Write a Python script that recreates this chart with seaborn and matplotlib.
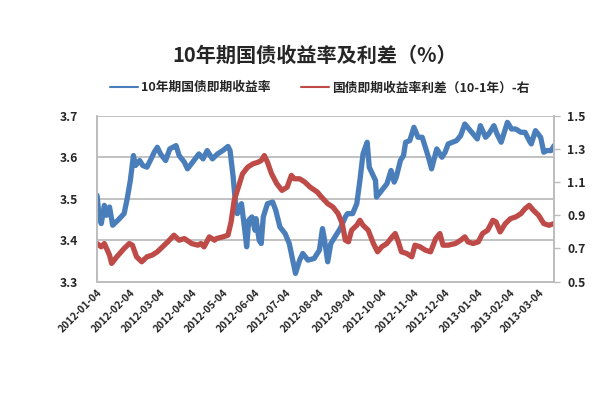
import matplotlib
matplotlib.use("Agg")
import matplotlib.pyplot as plt
import seaborn as sns
import pandas as pd
from matplotlib.lines import Line2D

# ---- data ----
title = "10年期国债收益率及利差（%）"
label_yield = "10年期国债即期收益率"
label_spread = "国债即期收益率利差（10-1年）-右"

yield_dates = [
    "2012-01-04", "2012-01-06", "2012-01-08", "2012-01-11", "2012-01-13", "2012-01-16", "2012-01-19",
    "2012-01-24", "2012-01-30", "2012-02-02", "2012-02-05", "2012-02-08", "2012-02-10", "2012-02-14",
    "2012-02-17", "2012-02-21", "2012-02-25", "2012-02-28", "2012-03-02", "2012-03-05", "2012-03-10",
    "2012-03-14", "2012-03-17", "2012-03-20", "2012-03-23", "2012-03-28", "2012-03-31", "2012-04-05",
    "2012-04-11", "2012-04-15", "2012-04-19", "2012-04-24", "2012-04-29", "2012-05-04", "2012-05-09",
    "2012-05-11", "2012-05-14", "2012-05-16", "2012-05-18", "2012-05-22", "2012-05-25", "2012-05-27",
    "2012-05-29", "2012-06-01", "2012-06-04", "2012-06-05", "2012-06-08", "2012-06-10", "2012-06-12",
    "2012-06-16", "2012-06-21", "2012-06-24", "2012-06-28", "2012-07-03", "2012-07-07", "2012-07-11",
    "2012-07-13", "2012-07-17", "2012-07-20", "2012-07-25", "2012-07-31", "2012-08-05", "2012-08-08",
    "2012-08-10", "2012-08-13", "2012-08-16", "2012-08-20", "2012-08-25", "2012-08-30", "2012-09-01",
    "2012-09-06", "2012-09-10", "2012-09-13", "2012-09-16", "2012-09-20", "2012-09-22", "2012-09-25",
    "2012-09-28", "2012-09-29", "2012-10-04", "2012-10-09", "2012-10-13", "2012-10-16", "2012-10-18",
    "2012-10-22", "2012-10-25", "2012-10-27", "2012-10-31", "2012-11-04", "2012-11-08", "2012-11-12",
    "2012-11-15", "2012-11-18", "2012-11-21", "2012-11-26", "2012-12-01", "2012-12-04", "2012-12-07",
    "2012-12-11", "2012-12-15", "2012-12-19", "2012-12-23", "2012-12-27", "2012-12-31", "2013-01-04",
    "2013-01-07", "2013-01-12", "2013-01-15", "2013-01-20", "2013-01-23", "2013-01-27", "2013-02-02",
    "2013-02-06", "2013-02-10", "2013-02-15", "2013-02-19", "2013-02-23", "2013-02-25", "2013-03-01",
    "2013-03-06", "2013-03-09", "2013-03-12", "2013-03-16", "2013-03-19",
]
yield_values = [
    3.508, 3.456, 3.440, 3.484, 3.460, 3.480, 3.436,
    3.448, 3.464, 3.500, 3.544, 3.604, 3.580, 3.592,
    3.580, 3.576, 3.596, 3.612, 3.624, 3.608, 3.592,
    3.620, 3.624, 3.628, 3.604, 3.588, 3.572, 3.588,
    3.608, 3.596, 3.616, 3.596, 3.608, 3.616, 3.626,
    3.616, 3.552, 3.496, 3.464, 3.488, 3.428, 3.384,
    3.448, 3.456, 3.424, 3.452, 3.400, 3.392, 3.456,
    3.488, 3.492, 3.472, 3.432, 3.416, 3.392, 3.344,
    3.320, 3.352, 3.368, 3.352, 3.356, 3.376, 3.428,
    3.400, 3.348, 3.392, 3.408, 3.428, 3.456, 3.464,
    3.464, 3.488, 3.544, 3.608, 3.636, 3.576, 3.560,
    3.544, 3.504, 3.520, 3.536, 3.568, 3.540, 3.552,
    3.592, 3.604, 3.636, 3.640, 3.672, 3.648, 3.648,
    3.624, 3.600, 3.572, 3.620, 3.600, 3.612, 3.632,
    3.636, 3.640, 3.652, 3.680, 3.668, 3.656, 3.644,
    3.676, 3.648, 3.656, 3.676, 3.656, 3.636, 3.684,
    3.668, 3.668, 3.660, 3.660, 3.640, 3.632, 3.664,
    3.648, 3.612, 3.616, 3.616, 3.628,
]

spread_dates = [
    "2012-01-04", "2012-01-08", "2012-01-11", "2012-01-16", "2012-01-18", "2012-01-23", "2012-01-30",
    "2012-02-04", "2012-02-07", "2012-02-11", "2012-02-16", "2012-02-21", "2012-02-26", "2012-03-02",
    "2012-03-07", "2012-03-12", "2012-03-18", "2012-03-23", "2012-03-28", "2012-04-04", "2012-04-10",
    "2012-04-13", "2012-04-16", "2012-04-21", "2012-04-26", "2012-04-28", "2012-05-04", "2012-05-09",
    "2012-05-12", "2012-05-15", "2012-05-18", "2012-05-23", "2012-05-28", "2012-06-02", "2012-06-07",
    "2012-06-10", "2012-06-13", "2012-06-16", "2012-06-20", "2012-06-25", "2012-06-30", "2012-07-05",
    "2012-07-09", "2012-07-12", "2012-07-17", "2012-07-22", "2012-07-27", "2012-08-03", "2012-08-07",
    "2012-08-13", "2012-08-18", "2012-08-23", "2012-08-27", "2012-08-30", "2012-09-02", "2012-09-05",
    "2012-09-10", "2012-09-13", "2012-09-16", "2012-09-21", "2012-09-26", "2012-09-30", "2012-10-04",
    "2012-10-09", "2012-10-14", "2012-10-17", "2012-10-20", "2012-10-23", "2012-10-28", "2012-11-02",
    "2012-11-05", "2012-11-10", "2012-11-15", "2012-11-20", "2012-11-25", "2012-11-29", "2012-12-02",
    "2012-12-07", "2012-12-14", "2012-12-19", "2012-12-23", "2012-12-26", "2012-12-31", "2013-01-05",
    "2013-01-09", "2013-01-14", "2013-01-19", "2013-01-22", "2013-01-26", "2013-01-31", "2013-02-05",
    "2013-02-10", "2013-02-15", "2013-02-19", "2013-02-23", "2013-02-27", "2013-03-04", "2013-03-09",
    "2013-03-14", "2013-03-19",
]
spread_values = [
    0.73, 0.71, 0.73, 0.66, 0.61, 0.65, 0.70,
    0.73, 0.72, 0.65, 0.62, 0.65, 0.66, 0.68,
    0.71, 0.74, 0.78, 0.75, 0.76, 0.73, 0.72,
    0.73, 0.71, 0.77, 0.75, 0.76, 0.77, 0.78,
    0.86, 0.99, 1.05, 1.15, 1.19, 1.21, 1.22,
    1.23, 1.26, 1.22, 1.15, 1.09, 1.05, 1.07,
    1.14, 1.12, 1.12, 1.10, 1.07, 1.04, 1.01,
    0.97, 0.95, 0.91, 0.85, 0.75, 0.74, 0.81,
    0.84, 0.87, 0.84, 0.81, 0.73, 0.68, 0.71,
    0.73, 0.77, 0.79, 0.74, 0.68, 0.67, 0.65,
    0.72, 0.71, 0.69, 0.68, 0.76, 0.79, 0.72,
    0.72, 0.73, 0.75, 0.77, 0.74, 0.73, 0.74,
    0.79, 0.81, 0.87, 0.86, 0.80, 0.85, 0.88,
    0.89, 0.91, 0.94, 0.96, 0.93, 0.90, 0.85,
    0.84, 0.85,
]

x_tick_labels = [
    "2012-01-04", "2012-02-04", "2012-03-04", "2012-04-04", "2012-05-04", "2012-06-04",
    "2012-07-04", "2012-08-04", "2012-09-04", "2012-10-04", "2012-11-04", "2012-12-04",
    "2013-01-04", "2013-02-04", "2013-03-04",
]
left_ticks = [3.3, 3.4, 3.5, 3.6, 3.7]
right_ticks = [0.5, 0.7, 0.9, 1.1, 1.3, 1.5]

# ---- style ----
sns.set_theme(style="white")
plt.rcParams['font.family'] = ['Noto Sans CJK SC', 'DejaVu Sans']
plt.rcParams['axes.unicode_minus'] = False

BLUE = "#4A7EBB"
RED = "#BE4B48"
GRID = "#BDBDBD"

df_y = pd.DataFrame({"date": pd.to_datetime(yield_dates), "value": yield_values})
df_s = pd.DataFrame({"date": pd.to_datetime(spread_dates), "value": spread_values})

fig = plt.figure(figsize=(6.03, 3.99), dpi=100)
ax = fig.add_axes([0.161, 0.294, 0.758, 0.416])
ax2 = ax.twinx()

sns.lineplot(data=df_y, x="date", y="value", ax=ax, color=BLUE, linewidth=3.8,
             solid_joinstyle="round", solid_capstyle="round", legend=False)
sns.lineplot(data=df_s, x="date", y="value", ax=ax2, color=RED, linewidth=3.8,
             solid_joinstyle="round", solid_capstyle="round", legend=False)

ax.set_xlim(pd.Timestamp("2012-01-04"), pd.Timestamp("2013-03-19"))
ax.set_ylim(3.3, 3.7)
ax2.set_ylim(0.5, 1.5)

ax.set_yticks(left_ticks)
ax.set_yticklabels([f"{v:.1f}" for v in left_ticks], fontsize=8.8, fontweight="bold")
ax2.set_yticks(right_ticks)
ax2.set_yticklabels([f"{v:.1f}" for v in right_ticks], fontsize=8.8, fontweight="bold")

ax.set_xticks(pd.to_datetime(x_tick_labels))
ax.set_xticklabels(x_tick_labels, rotation=45, ha="right", rotation_mode="anchor",
                   fontsize=7.4, fontweight="bold")

ax.set_xlabel("")
ax.set_ylabel("")
ax2.set_ylabel("")

ax.grid(axis="y", color=GRID, linewidth=1.3)
ax.set_axisbelow(True)
ax.tick_params(axis="y", length=0, pad=13.5)
ax.tick_params(axis="x", length=0, pad=4)
ax2.tick_params(axis="y", length=4, width=1, color=GRID, pad=5.5, direction="out")

for a in (ax, ax2):
    for s in a.spines.values():
        s.set_color(GRID)
        s.set_linewidth(1.2)
    a.spines["top"].set_visible(False)

fig.text(0.522, 0.86, title, ha="center", va="center", fontsize=14.5, fontweight="bold")

handles = [Line2D([0], [0], color=BLUE, linewidth=1.5), Line2D([0], [0], color=RED, linewidth=1.5)]
fig.legend(handles, [label_yield, label_spread], loc="center", bbox_to_anchor=(0.53, 0.78),
           ncol=2, frameon=False, handlelength=2.2, handletextpad=0.25, columnspacing=2.4,
           prop={"size": 9.2, "weight": "bold"})

fig.savefig("out.png", dpi=100, facecolor="white")
